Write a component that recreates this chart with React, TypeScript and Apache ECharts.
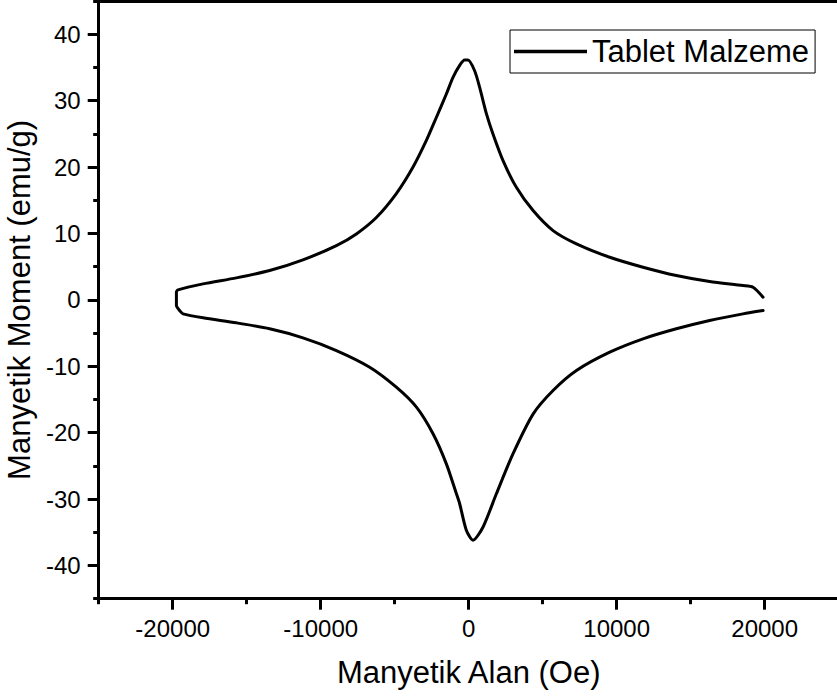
import React, { useEffect, useRef } from "react";
import * as echarts from "echarts";

const seriesName = "Tablet Malzeme";
const xTitle = "Manyetik Alan (Oe)";
const yTitle = "Manyetik Moment (emu/g)";

const fieldOe = [
  19890, 19210, 18530, 16280, 14030, 11780, 9530, 7280, 5700, 4350, 3220, 2320,
  1640, 1200, 740, 400, -50, -270, -610, -1060, -1510, -2180, -2860, -3760,
  -4890, -6240, -7590, -8940, -11200, -13450, -15700, -17950, -19640, -19750,
  -19750, -19500, -19300, -17950, -15700, -13450, -11200, -8940, -6690, -4890,
  -3530, -2410, -1510, -830, -610, -160, 290, 970, 1870, 2990, 4350, 5700, 7280,
  9530, 11780, 14030, 16280, 18530, 19890,
];
const momentEmu = [
  0.4, 1.9, 2.15, 2.75, 3.66, 4.91, 6.41, 8.43, 10.43, 13.44, 16.95, 20.97,
  24.98, 28.0, 32.0, 34.5, 36.1, 36.1, 35.3, 33.5, 31.0, 27.5, 24.0, 20.0, 16.0,
  12.4, 9.93, 8.17, 6.02, 4.41, 3.31, 2.41, 1.51, 1.14, -0.86, -1.7, -2.11,
  -2.71, -3.46, -4.36, -5.72, -7.63, -10.14, -13.15, -16.16, -20.17, -24.7,
  -29.2, -30.7, -34.7, -36.2, -34.2, -29.2, -23.2, -17.2, -13.65, -10.64, -7.88,
  -5.87, -4.36, -3.11, -2.11, -1.61,
];

const xMajorTicks = [-20000, -10000, 0, 10000, 20000];
const xMinorTicks = [-25000, -15000, -5000, 5000, 15000, 25000];
const yMajorTicks = [-40, -30, -20, -10, 0, 10, 20, 30, 40];
const yMinorTicks = [-45, -35, -25, -15, -5, 5, 15, 25, 35, 45];

const FONT = "Liberation Sans, Arial, sans-serif";
const BLACK = "#000";

export default function App() {
  const ref = useRef<HTMLDivElement>(null);

  useEffect(() => {
    if (!ref.current) return;
    const chart = echarts.init(ref.current, null, { renderer: "svg" });
    const points = fieldOe.map((x, i) => [x, momentEmu[i]]);
    const lineStyle = { color: BLACK, width: 3 };
    const hidden = { show: false };
    const hiddenLine = { show: false, onZero: false };

    const tickAxis = (
      kind: "x" | "y",
      values: number[],
      length: number
    ) => ({
      type: "value",
      min: kind === "x" ? -25000 : -45,
      max: kind === "x" ? 25000 : 45,
      position: kind === "x" ? "bottom" : "left",
      axisLine: hiddenLine,
      axisTick: {
        show: true,
        inside: false,
        customValues: values,
        length,
        lineStyle,
      },
      axisLabel: hidden,
      splitLine: hidden,
    });

    const option: any = {
      animation: false,
      backgroundColor: "#fff",
      grid: {
        left: 98.7,
        top: 1,
        width: 740,
        height: 597.7,
        containLabel: false,
        outerBoundsMode: "none",
      },
      legend: {
        data: [seriesName],
        left: 510,
        top: 30,
        orient: "horizontal",
        padding: [6, 6, 6, 4],
        icon: "rect",
        itemWidth: 73,
        itemHeight: 3.5,
        borderColor: BLACK,
        borderWidth: 1,
        backgroundColor: "#fff",
        itemStyle: { color: BLACK },
        textStyle: {
          fontSize: 31,
          lineHeight: 31,
          color: BLACK,
          fontFamily: FONT,
        },
      },
      xAxis: [
        {
          type: "value",
          min: -25000,
          max: 25000,
          position: "bottom",
          name: xTitle,
          nameLocation: "middle",
          nameGap: 58,
          nameTextStyle: { fontSize: 31, color: BLACK, fontFamily: FONT },
          axisLine: { show: true, onZero: false, lineStyle },
          axisTick: hidden,
          axisLabel: {
            show: true,
            customValues: xMajorTicks,
            margin: 18,
            fontSize: 24,
            color: BLACK,
            fontFamily: FONT,
            formatter: (v: number) => String(v),
          },
          splitLine: hidden,
        },
        tickAxis("x", xMajorTicks, 11),
        tickAxis("x", xMinorTicks, 5.5),
        {
          type: "value",
          min: -25000,
          max: 25000,
          position: "top",
          axisLine: { show: true, onZero: false, lineStyle },
          axisTick: hidden,
          axisLabel: hidden,
          splitLine: hidden,
        },
      ],
      yAxis: [
        {
          type: "value",
          min: -45,
          max: 45,
          position: "left",
          name: yTitle,
          nameLocation: "middle",
          nameGap: 64,
          nameTextStyle: { fontSize: 31, color: BLACK, fontFamily: FONT },
          axisLine: { show: true, onZero: false, lineStyle },
          axisTick: hidden,
          axisLabel: {
            show: true,
            customValues: yMajorTicks,
            margin: 18,
            fontSize: 24,
            color: BLACK,
            fontFamily: FONT,
            formatter: (v: number) => String(v),
          },
          splitLine: hidden,
        },
        tickAxis("y", yMajorTicks, 11),
        tickAxis("y", yMinorTicks, 5.5),
      ],
      series: [
        {
          name: seriesName,
          type: "line",
          xAxisIndex: 0,
          yAxisIndex: 0,
          data: points,
          symbol: "none",
          showSymbol: false,
          smooth: 0.25,
          clip: false,
          lineStyle: { color: BLACK, width: 3, join: "round", cap: "round" },
          itemStyle: { color: BLACK },
        },
      ],
    };

    chart.setOption(option);
    return () => chart.dispose();
  }, []);

  return (
    <div
      ref={ref}
      style={{
        position: "fixed",
        left: 0,
        top: 0,
        width: 837,
        height: 697,
        background: "#fff",
      }}
    />
  );
}
